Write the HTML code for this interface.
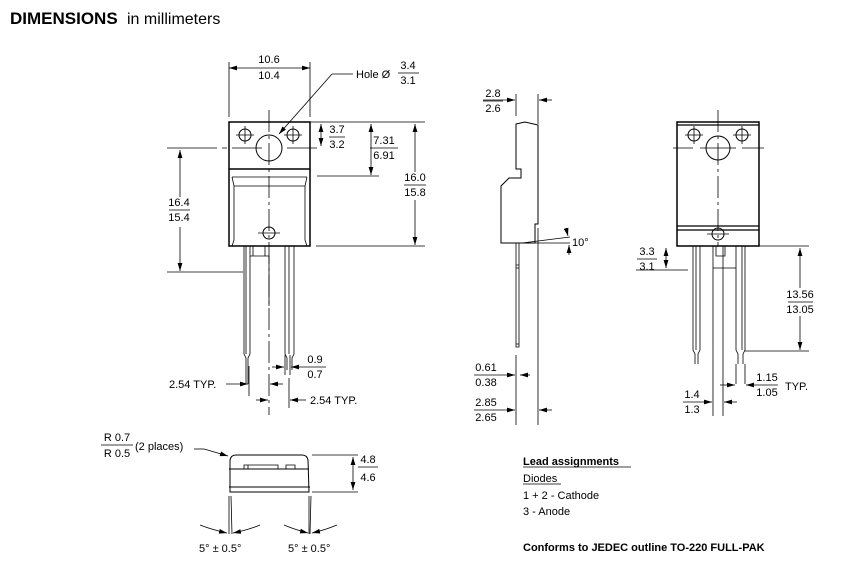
<!DOCTYPE html>
<html><head><meta charset="utf-8"><style>
html,body{margin:0;padding:0;background:#fff;}
svg{display:block;font-family:"Liberation Sans",Arial,sans-serif;}
</style></head><body>
<svg width="850" height="570" viewBox="0 0 850 570" xmlns="http://www.w3.org/2000/svg">
<defs>
<marker id="a" viewBox="0 0 10 6" refX="10" refY="3" markerWidth="8" markerHeight="5" orient="auto-start-reverse" markerUnits="userSpaceOnUse"><path d="M0,0L10,3L0,6z" fill="#000"/></marker>
</defs>
<text x="10" y="24" font-size="17" font-weight="bold">DIMENSIONS</text>
<text x="127" y="24" font-size="16">in millimeters</text>

<g stroke="#000" fill="none" stroke-width="1">
<!-- FRONT VIEW -->
<rect x="229" y="122" width="81" height="124" stroke-width="1.5"/>
<line x1="229" y1="169" x2="310" y2="169" stroke-width="1.5"/>
<path d="M232,177 L307,177 M232,177 L234,186 L305,186 L307,177 M234,186 L234,240 L232,246 M305,186 L305,240 L307,246" stroke-width="0.8"/>
<circle cx="269" cy="148" r="13"/>
<circle cx="245" cy="135" r="6"/><circle cx="293" cy="135" r="6"/>
<path d="M236,135h18M245,126v18M284,135h18M293,126v18" stroke-width="0.8"/>
<circle cx="269" cy="233" r="6"/>
<path d="M258,233h22" stroke-width="0.8"/>
<line x1="269" y1="110" x2="269" y2="415" stroke-dasharray="22,4,3,4" stroke-width="0.8"/>
<path d="M167,148h50M222,148h5M232,148h30M287,148h30" stroke-width="0.8"/>
<!-- leads -->
<path d="M244,246v108l2,4v26M250,246v108l-2,4v26M246,246v108M285,246v108l2,4v12M294,246v108l-2,4v12M289,246v108" stroke-width="0.8"/>
<path d="M253,246v10h12v-10M250,256h19v50" stroke-width="0.8"/>
<!-- dims -->
<path d="M229,117v-55M310,117v-55" stroke-width="0.8"/>
<line x1="229" y1="68" x2="310" y2="68" marker-start="url(#a)" marker-end="url(#a)" stroke-width="0.8"/>
<line x1="353" y1="74" x2="332" y2="74" stroke-width="0.8"/>
<line x1="332" y1="74" x2="279" y2="134" marker-end="url(#a)" stroke-width="0.8"/>
<path d="M310,122h115M317,176h62M316,246h109M167,272h76" stroke-width="0.8"/>
<line x1="321" y1="124" x2="321" y2="146" marker-start="url(#a)" marker-end="url(#a)" stroke-width="0.8"/>
<line x1="371" y1="124" x2="371" y2="175" marker-start="url(#a)" marker-end="url(#a)" stroke-width="0.8"/>
<line x1="415" y1="124" x2="415" y2="172" marker-start="url(#a)" stroke-width="0.8"/>
<line x1="415" y1="200" x2="415" y2="245" marker-end="url(#a)" stroke-width="0.8"/>
<line x1="180" y1="150" x2="180" y2="197" marker-start="url(#a)" stroke-width="0.8"/>
<line x1="180" y1="227" x2="180" y2="271" marker-end="url(#a)" stroke-width="0.8"/>
<path d="M249,366v30M285,355v20M290,355v20M289,378v30" stroke-width="0.8"/>
<line x1="272" y1="367" x2="284" y2="367" marker-end="url(#a)" stroke-width="0.8"/>
<line x1="326" y1="367" x2="291" y2="367" marker-end="url(#a)" stroke-width="0.8"/>
<line x1="226" y1="384" x2="248" y2="384" marker-end="url(#a)" stroke-width="0.8"/>
<line x1="283" y1="384" x2="270" y2="384" marker-end="url(#a)" stroke-width="0.8"/>
<line x1="256" y1="400" x2="268" y2="400" marker-end="url(#a)" stroke-width="0.8"/>
<line x1="306" y1="400" x2="290" y2="400" marker-end="url(#a)" stroke-width="0.8"/>

<!-- SIDE VIEW -->
<path d="M516,124 L525,122 L538,125 L538,224 L535,224 L535,243 L501,243 L501,186 L509,178 L521,178 L521,169 L516,169 Z" stroke-width="1"/>
<path d="M516,243v104h3v-104M516,265h3M516,268h3M516,344h3" stroke-width="0.8"/>
<path d="M516,94v22M538,94v30M538,228v197M516,355v70" stroke-width="0.8"/>
<line x1="483" y1="100" x2="515" y2="100" marker-end="url(#a)" stroke-width="0.8"/>
<line x1="552" y1="100" x2="539" y2="100" marker-end="url(#a)" stroke-width="0.8"/>
<path d="M522,243l48,-6M524,243h46" stroke-width="0.8"/>
<line x1="566" y1="228" x2="568" y2="236" marker-end="url(#a)" stroke-width="0.8"/>
<line x1="569" y1="255" x2="569" y2="245" marker-end="url(#a)" stroke-width="0.8"/>
<line x1="474" y1="375" x2="515" y2="375" marker-end="url(#a)" stroke-width="0.8"/>
<line x1="530" y1="375" x2="520" y2="375" marker-end="url(#a)" stroke-width="0.8"/>
<line x1="474" y1="410" x2="515" y2="410" marker-end="url(#a)" stroke-width="0.8"/>
<line x1="552" y1="410" x2="539" y2="410" marker-end="url(#a)" stroke-width="0.8"/>

<!-- BACK VIEW -->
<rect x="677" y="122" width="82" height="124" stroke-width="1.5"/>
<path d="M677,125h82M677,226h82M677,230h82" stroke-width="1.2"/>
<circle cx="718" cy="148" r="12"/>
<circle cx="694" cy="135" r="6"/><circle cx="742" cy="135" r="6"/>
<path d="M685,135h18M694,126v18M733,135h18M742,126v18M707,234h22" stroke-width="0.8"/>
<circle cx="718" cy="234" r="6"/>
<line x1="718" y1="110" x2="718" y2="246" stroke-dasharray="22,4,3,4" stroke-width="0.8"/>
<path d="M673,148h20M700,148h36M742,148h22" stroke-width="0.8"/>
<path d="M693,246v104l2,4v10M700,246v104l-2,4v10M696,246v104M713,246v170M723,246v170M716,246v10h9v-10M713,268h23v82M736,246v104l2,4v10M745,246v104l-2,4v10M742,246v104" stroke-width="0.8"/>
<path d="M759,246h50M745,351h64M636,270h52" stroke-width="0.8"/>
<line x1="666" y1="248" x2="666" y2="268" marker-start="url(#a)" marker-end="url(#a)" stroke-width="0.8"/>
<line x1="800" y1="248" x2="800" y2="288" marker-start="url(#a)" stroke-width="0.8"/>
<line x1="800" y1="316" x2="800" y2="350" marker-end="url(#a)" stroke-width="0.8"/>
<path d="M736,364v20M745,364v20" stroke-width="0.8"/>
<line x1="720" y1="385" x2="735" y2="385" marker-end="url(#a)" stroke-width="0.8"/>
<line x1="778" y1="385" x2="746" y2="385" marker-end="url(#a)" stroke-width="0.8"/>
<line x1="683" y1="402" x2="712" y2="402" marker-end="url(#a)" stroke-width="0.8"/>
<line x1="737" y1="402" x2="724" y2="402" marker-end="url(#a)" stroke-width="0.8"/>

<!-- BOTTOM VIEW -->
<path d="M230,492 L230,460 Q231,455 236,455 L302,455 Q307,455 308,460 L309,492 Z" stroke-width="1"/>
<path d="M229,469h80M229,487h81" stroke-width="1"/>
<path d="M244,469v-4h34v4M286,469v-4h9v4M248,465v4" stroke-width="0.8"/>
<path d="M312,455h46M312,492h46" stroke-width="0.8"/>
<line x1="353" y1="457" x2="353" y2="490" marker-start="url(#a)" marker-end="url(#a)" stroke-width="0.8"/>
<path d="M194,449h10" stroke-width="0.8"/>
<line x1="204" y1="449" x2="228" y2="456" marker-end="url(#a)" stroke-width="0.8"/>
<path d="M229,496v38M231,496l1,38M309,496v38M311,496l-1,38" stroke-width="0.8"/>
<path d="M200,525 Q213,530 227,533" stroke-width="0.8" marker-end="url(#a)"/>
<path d="M260,525 Q248,530 233,533" stroke-width="0.8" marker-end="url(#a)"/>
<path d="M284,525 Q296,530 308,533" stroke-width="0.8" marker-end="url(#a)"/>
<path d="M337,525 Q325,530 312,533" stroke-width="0.8" marker-end="url(#a)"/>
</g>

<g font-size="11" fill="#000">
<g text-anchor="middle">
<text x="269" y="63">10.6</text><text x="269" y="79">10.4</text>
<text x="179" y="206">16.4</text><text x="179" y="221">15.4</text>
<text x="337" y="133">3.7</text><text x="337" y="148">3.2</text>
<text x="384" y="144">7.31</text><text x="384" y="159">6.91</text>
<text x="415" y="181">16.0</text><text x="415" y="196">15.8</text>
<text x="408" y="69">3.4</text><text x="408" y="84">3.1</text>
<text x="315" y="363">0.9</text><text x="315" y="378">0.7</text>
<text x="493" y="97">2.8</text><text x="493" y="112">2.6</text>
<text x="486" y="371">0.61</text><text x="486" y="386">0.38</text>
<text x="486" y="406">2.85</text><text x="486" y="421">2.65</text>
<text x="647" y="255">3.3</text><text x="647" y="270">3.1</text>
<text x="800" y="298">13.56</text><text x="800" y="313">13.05</text>
<text x="767" y="381">1.15</text><text x="767" y="396">1.05</text>
<text x="692" y="398">1.4</text><text x="692" y="413">1.3</text>
<text x="368" y="463">4.8</text><text x="368" y="481">4.6</text>
<text x="117" y="441">R 0.7</text><text x="117" y="457">R 0.5</text>
</g>
<text x="356" y="78">Hole Ø</text>
<text x="169" y="388">2.54 TYP.</text>
<text x="310" y="404">2.54 TYP.</text>
<text x="572" y="246">10°</text>
<text x="785" y="390">TYP.</text>
<text x="135" y="450">(2 places)</text>
<text x="199" y="552">5° ± 0.5°</text>
<text x="288" y="552">5° ± 0.5°</text>
<text x="523" y="465" font-weight="bold">Lead assignments</text>
<text x="523" y="482">Diodes</text>
<text x="523" y="499">1 + 2 - Cathode</text>
<text x="523" y="515">3 - Anode</text>
<text x="523" y="551" font-weight="bold">Conforms to JEDEC outline TO-220 FULL-PAK</text>
</g>
<g stroke="#000" stroke-width="0.8">
<path d="M398,73h21M370,148h28M404,185h22M329,137h16M483,101h20M637,259h20M788,302h25M101,445h32M169,210h21M523,467h108M523,484h38M358,467h20"/>
</g>
</svg>
</body></html>
